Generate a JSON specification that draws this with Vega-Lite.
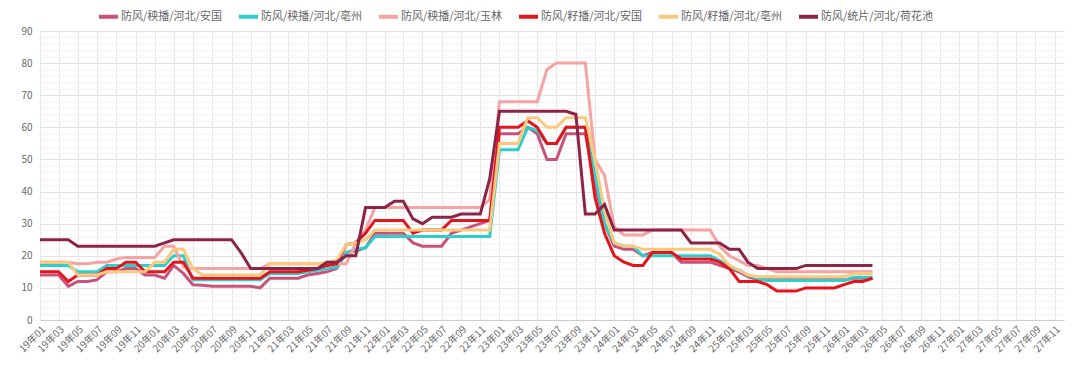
{
  "$schema": "https://vega.github.io/schema/vega-lite/v6.json",
  "width": 1024,
  "height": 289,
  "autosize": "none",
  "padding": {"left": 40, "top": 31, "right": 16, "bottom": 54},
  "background": "#ffffff",
  "config": {
    "font": "Noto Sans CJK SC",
    "view": {"stroke": null}
  },
  "data": {
    "values": [
      {"d":"2019-01-01","防风/秧播/河北/安国":14,"防风/秧播/河北/亳州":17,"防风/秧播/河北/玉林":18,"防风/籽播/河北/安国":15,"防风/籽播/河北/亳州":18,"防风/统片/河北/荷花池":25},
      {"d":"2019-02-01","防风/秧播/河北/安国":14,"防风/秧播/河北/亳州":17,"防风/秧播/河北/玉林":18,"防风/籽播/河北/安国":15,"防风/籽播/河北/亳州":18,"防风/统片/河北/荷花池":25},
      {"d":"2019-03-01","防风/秧播/河北/安国":14,"防风/秧播/河北/亳州":17,"防风/秧播/河北/玉林":18,"防风/籽播/河北/安国":15,"防风/籽播/河北/亳州":18,"防风/统片/河北/荷花池":25},
      {"d":"2019-04-01","防风/秧播/河北/安国":10.5,"防风/秧播/河北/亳州":17,"防风/秧播/河北/玉林":18,"防风/籽播/河北/安国":12,"防风/籽播/河北/亳州":18,"防风/统片/河北/荷花池":25},
      {"d":"2019-05-01","防风/秧播/河北/安国":12,"防风/秧播/河北/亳州":15,"防风/秧播/河北/玉林":17.5,"防风/籽播/河北/安国":14,"防风/籽播/河北/亳州":14,"防风/统片/河北/荷花池":23},
      {"d":"2019-06-01","防风/秧播/河北/安国":12,"防风/秧播/河北/亳州":15,"防风/秧播/河北/玉林":17.5,"防风/籽播/河北/安国":14,"防风/籽播/河北/亳州":14,"防风/统片/河北/荷花池":23},
      {"d":"2019-07-01","防风/秧播/河北/安国":12.5,"防风/秧播/河北/亳州":15,"防风/秧播/河北/玉林":18,"防风/籽播/河北/安国":14,"防风/籽播/河北/亳州":14,"防风/统片/河北/荷花池":23},
      {"d":"2019-08-01","防风/秧播/河北/安国":15,"防风/秧播/河北/亳州":17,"防风/秧播/河北/玉林":18,"防风/籽播/河北/安国":16,"防风/籽播/河北/亳州":15,"防风/统片/河北/荷花池":23},
      {"d":"2019-09-01","防风/秧播/河北/安国":15,"防风/秧播/河北/亳州":17,"防风/秧播/河北/玉林":19,"防风/籽播/河北/安国":16,"防风/籽播/河北/亳州":15,"防风/统片/河北/荷花池":23},
      {"d":"2019-10-01","防风/秧播/河北/安国":16,"防风/秧播/河北/亳州":17,"防风/秧播/河北/玉林":19.5,"防风/籽播/河北/安国":18,"防风/籽播/河北/亳州":15,"防风/统片/河北/荷花池":23},
      {"d":"2019-11-01","防风/秧播/河北/安国":16,"防风/秧播/河北/亳州":17,"防风/秧播/河北/玉林":19.5,"防风/籽播/河北/安国":18,"防风/籽播/河北/亳州":15,"防风/统片/河北/荷花池":23},
      {"d":"2019-12-01","防风/秧播/河北/安国":14,"防风/秧播/河北/亳州":17,"防风/秧播/河北/玉林":19.5,"防风/籽播/河北/安国":15,"防风/籽播/河北/亳州":15,"防风/统片/河北/荷花池":23},
      {"d":"2020-01-01","防风/秧播/河北/安国":14,"防风/秧播/河北/亳州":17,"防风/秧播/河北/玉林":19.5,"防风/籽播/河北/安国":15,"防风/籽播/河北/亳州":18,"防风/统片/河北/荷花池":23},
      {"d":"2020-02-01","防风/秧播/河北/安国":13,"防风/秧播/河北/亳州":17,"防风/秧播/河北/玉林":23,"防风/籽播/河北/安国":15,"防风/籽播/河北/亳州":18,"防风/统片/河北/荷花池":24},
      {"d":"2020-03-01","防风/秧播/河北/安国":17,"防风/秧播/河北/亳州":20,"防风/秧播/河北/玉林":23,"防风/籽播/河北/安国":18,"防风/籽播/河北/亳州":22,"防风/统片/河北/荷花池":25},
      {"d":"2020-04-01","防风/秧播/河北/安国":14.5,"防风/秧播/河北/亳州":20,"防风/秧播/河北/玉林":16.5,"防风/籽播/河北/安国":18,"防风/籽播/河北/亳州":22,"防风/统片/河北/荷花池":25},
      {"d":"2020-05-01","防风/秧播/河北/安国":11,"防风/秧播/河北/亳州":12.5,"防风/秧播/河北/玉林":16,"防风/籽播/河北/安国":13,"防风/籽播/河北/亳州":16,"防风/统片/河北/荷花池":25},
      {"d":"2020-06-01","防风/秧播/河北/安国":10.8,"防风/秧播/河北/亳州":12.5,"防风/秧播/河北/玉林":16,"防风/籽播/河北/安国":13,"防风/籽播/河北/亳州":14,"防风/统片/河北/荷花池":25},
      {"d":"2020-07-01","防风/秧播/河北/安国":10.5,"防风/秧播/河北/亳州":12.5,"防风/秧播/河北/玉林":16,"防风/籽播/河北/安国":13,"防风/籽播/河北/亳州":14,"防风/统片/河北/荷花池":25},
      {"d":"2020-08-01","防风/秧播/河北/安国":10.5,"防风/秧播/河北/亳州":12.5,"防风/秧播/河北/玉林":16,"防风/籽播/河北/安国":13,"防风/籽播/河北/亳州":14,"防风/统片/河北/荷花池":25},
      {"d":"2020-09-01","防风/秧播/河北/安国":10.5,"防风/秧播/河北/亳州":12.5,"防风/秧播/河北/玉林":16,"防风/籽播/河北/安国":13,"防风/籽播/河北/亳州":14,"防风/统片/河北/荷花池":25},
      {"d":"2020-10-01","防风/秧播/河北/安国":10.5,"防风/秧播/河北/亳州":12.5,"防风/秧播/河北/玉林":16,"防风/籽播/河北/安国":13,"防风/籽播/河北/亳州":14,"防风/统片/河北/荷花池":21},
      {"d":"2020-11-01","防风/秧播/河北/安国":10.5,"防风/秧播/河北/亳州":12.5,"防风/秧播/河北/玉林":16,"防风/籽播/河北/安国":13,"防风/籽播/河北/亳州":14,"防风/统片/河北/荷花池":16},
      {"d":"2020-12-01","防风/秧播/河北/安国":10,"防风/秧播/河北/亳州":12.5,"防风/秧播/河北/玉林":16,"防风/籽播/河北/安国":13,"防风/籽播/河北/亳州":14,"防风/统片/河北/荷花池":16},
      {"d":"2021-01-01","防风/秧播/河北/安国":13,"防风/秧播/河北/亳州":14.5,"防风/秧播/河北/玉林":17.5,"防风/籽播/河北/安国":15,"防风/籽播/河北/亳州":17.5,"防风/统片/河北/荷花池":16},
      {"d":"2021-02-01","防风/秧播/河北/安国":13,"防风/秧播/河北/亳州":14.5,"防风/秧播/河北/玉林":17.5,"防风/籽播/河北/安国":15,"防风/籽播/河北/亳州":17.5,"防风/统片/河北/荷花池":16},
      {"d":"2021-03-01","防风/秧播/河北/安国":13,"防风/秧播/河北/亳州":14.5,"防风/秧播/河北/玉林":17.5,"防风/籽播/河北/安国":15,"防风/籽播/河北/亳州":17.5,"防风/统片/河北/荷花池":16},
      {"d":"2021-04-01","防风/秧播/河北/安国":13,"防风/秧播/河北/亳州":14.5,"防风/秧播/河北/玉林":17.5,"防风/籽播/河北/安国":15,"防风/籽播/河北/亳州":17.5,"防风/统片/河北/荷花池":16},
      {"d":"2021-05-01","防风/秧播/河北/安国":14,"防风/秧播/河北/亳州":15,"防风/秧播/河北/玉林":17.5,"防风/籽播/河北/安国":15.5,"防风/籽播/河北/亳州":17.5,"防风/统片/河北/荷花池":16},
      {"d":"2021-06-01","防风/秧播/河北/安国":14.5,"防风/秧播/河北/亳州":15.5,"防风/秧播/河北/玉林":17.5,"防风/籽播/河北/安国":16,"防风/籽播/河北/亳州":17.5,"防风/统片/河北/荷花池":16},
      {"d":"2021-07-01","防风/秧播/河北/安国":15,"防风/秧播/河北/亳州":16,"防风/秧播/河北/玉林":17.5,"防风/籽播/河北/安国":17,"防风/籽播/河北/亳州":18,"防风/统片/河北/荷花池":18},
      {"d":"2021-08-01","防风/秧播/河北/安国":16,"防风/秧播/河北/亳州":16.5,"防风/秧播/河北/玉林":17.5,"防风/籽播/河北/安国":17.5,"防风/籽播/河北/亳州":18.5,"防风/统片/河北/荷花池":18},
      {"d":"2021-09-01","防风/秧播/河北/安国":21,"防风/秧播/河北/亳州":21,"防风/秧播/河北/玉林":17.5,"防风/籽播/河北/安国":23.5,"防风/籽播/河北/亳州":23.5,"防风/统片/河北/荷花池":20},
      {"d":"2021-10-01","防风/秧播/河北/安国":21.5,"防风/秧播/河北/亳州":22,"防风/秧播/河北/玉林":24,"防风/籽播/河北/安国":24,"防风/籽播/河北/亳州":24,"防风/统片/河北/荷花池":20},
      {"d":"2021-11-01","防风/秧播/河北/安国":22.5,"防风/秧播/河北/亳州":22.5,"防风/秧播/河北/玉林":28,"防风/籽播/河北/安国":27,"防风/籽播/河北/亳州":25,"防风/统片/河北/荷花池":35},
      {"d":"2021-12-01","防风/秧播/河北/安国":27,"防风/秧播/河北/亳州":26,"防风/秧播/河北/玉林":35,"防风/籽播/河北/安国":31,"防风/籽播/河北/亳州":28,"防风/统片/河北/荷花池":35},
      {"d":"2022-01-01","防风/秧播/河北/安国":27,"防风/秧播/河北/亳州":26,"防风/秧播/河北/玉林":35,"防风/籽播/河北/安国":31,"防风/籽播/河北/亳州":28,"防风/统片/河北/荷花池":35},
      {"d":"2022-02-01","防风/秧播/河北/安国":27,"防风/秧播/河北/亳州":26,"防风/秧播/河北/玉林":35,"防风/籽播/河北/安国":31,"防风/籽播/河北/亳州":28,"防风/统片/河北/荷花池":37},
      {"d":"2022-03-01","防风/秧播/河北/安国":27,"防风/秧播/河北/亳州":26,"防风/秧播/河北/玉林":35,"防风/籽播/河北/安国":31,"防风/籽播/河北/亳州":28,"防风/统片/河北/荷花池":37},
      {"d":"2022-04-01","防风/秧播/河北/安国":24,"防风/秧播/河北/亳州":26,"防风/秧播/河北/玉林":35,"防风/籽播/河北/安国":27,"防风/籽播/河北/亳州":28,"防风/统片/河北/荷花池":31.5},
      {"d":"2022-05-01","防风/秧播/河北/安国":23,"防风/秧播/河北/亳州":26,"防风/秧播/河北/玉林":35,"防风/籽播/河北/安国":28,"防风/籽播/河北/亳州":28,"防风/统片/河北/荷花池":30},
      {"d":"2022-06-01","防风/秧播/河北/安国":23,"防风/秧播/河北/亳州":26,"防风/秧播/河北/玉林":35,"防风/籽播/河北/安国":28,"防风/籽播/河北/亳州":28,"防风/统片/河北/荷花池":32},
      {"d":"2022-07-01","防风/秧播/河北/安国":23,"防风/秧播/河北/亳州":26,"防风/秧播/河北/玉林":35,"防风/籽播/河北/安国":28,"防风/籽播/河北/亳州":28,"防风/统片/河北/荷花池":32},
      {"d":"2022-08-01","防风/秧播/河北/安国":27,"防风/秧播/河北/亳州":26,"防风/秧播/河北/玉林":35,"防风/籽播/河北/安国":31,"防风/籽播/河北/亳州":28,"防风/统片/河北/荷花池":32},
      {"d":"2022-09-01","防风/秧播/河北/安国":28,"防风/秧播/河北/亳州":26,"防风/秧播/河北/玉林":35,"防风/籽播/河北/安国":31,"防风/籽播/河北/亳州":28,"防风/统片/河北/荷花池":33},
      {"d":"2022-10-01","防风/秧播/河北/安国":29,"防风/秧播/河北/亳州":26,"防风/秧播/河北/玉林":35,"防风/籽播/河北/安国":31,"防风/籽播/河北/亳州":28,"防风/统片/河北/荷花池":33},
      {"d":"2022-11-01","防风/秧播/河北/安国":30,"防风/秧播/河北/亳州":26,"防风/秧播/河北/玉林":35,"防风/籽播/河北/安国":31,"防风/籽播/河北/亳州":28,"防风/统片/河北/荷花池":33},
      {"d":"2022-12-01","防风/秧播/河北/安国":31,"防风/秧播/河北/亳州":26,"防风/秧播/河北/玉林":37.5,"防风/籽播/河北/安国":31,"防风/籽播/河北/亳州":28,"防风/统片/河北/荷花池":44},
      {"d":"2023-01-01","防风/秧播/河北/安国":58,"防风/秧播/河北/亳州":53,"防风/秧播/河北/玉林":68,"防风/籽播/河北/安国":60,"防风/籽播/河北/亳州":55,"防风/统片/河北/荷花池":65},
      {"d":"2023-02-01","防风/秧播/河北/安国":58,"防风/秧播/河北/亳州":53,"防风/秧播/河北/玉林":68,"防风/籽播/河北/安国":60,"防风/籽播/河北/亳州":55,"防风/统片/河北/荷花池":65},
      {"d":"2023-03-01","防风/秧播/河北/安国":58,"防风/秧播/河北/亳州":53,"防风/秧播/河北/玉林":68,"防风/籽播/河北/安国":60,"防风/籽播/河北/亳州":55,"防风/统片/河北/荷花池":65},
      {"d":"2023-04-01","防风/秧播/河北/安国":60,"防风/秧播/河北/亳州":60,"防风/秧播/河北/玉林":68,"防风/籽播/河北/安国":62,"防风/籽播/河北/亳州":63,"防风/统片/河北/荷花池":65},
      {"d":"2023-05-01","防风/秧播/河北/安国":58,"防风/秧播/河北/亳州":59,"防风/秧播/河北/玉林":68,"防风/籽播/河北/安国":60,"防风/籽播/河北/亳州":63,"防风/统片/河北/荷花池":65},
      {"d":"2023-06-01","防风/秧播/河北/安国":50,"防风/秧播/河北/亳州":55,"防风/秧播/河北/玉林":78,"防风/籽播/河北/安国":55,"防风/籽播/河北/亳州":60,"防风/统片/河北/荷花池":65},
      {"d":"2023-07-01","防风/秧播/河北/安国":50,"防风/秧播/河北/亳州":55,"防风/秧播/河北/玉林":80,"防风/籽播/河北/安国":55,"防风/籽播/河北/亳州":60,"防风/统片/河北/荷花池":65},
      {"d":"2023-08-01","防风/秧播/河北/安国":58,"防风/秧播/河北/亳州":60,"防风/秧播/河北/玉林":80,"防风/籽播/河北/安国":60,"防风/籽播/河北/亳州":63,"防风/统片/河北/荷花池":65},
      {"d":"2023-09-01","防风/秧播/河北/安国":58,"防风/秧播/河北/亳州":60,"防风/秧播/河北/玉林":80,"防风/籽播/河北/安国":60,"防风/籽播/河北/亳州":63,"防风/统片/河北/荷花池":64},
      {"d":"2023-10-01","防风/秧播/河北/安国":58,"防风/秧播/河北/亳州":60,"防风/秧播/河北/玉林":80,"防风/籽播/河北/安国":60,"防风/籽播/河北/亳州":63,"防风/统片/河北/荷花池":33},
      {"d":"2023-11-01","防风/秧播/河北/安国":42,"防风/秧播/河北/亳州":45,"防风/秧播/河北/玉林":50,"防风/籽播/河北/安国":38,"防风/籽播/河北/亳州":50,"防风/统片/河北/荷花池":33},
      {"d":"2023-12-01","防风/秧播/河北/安国":30,"防风/秧播/河北/亳州":30,"防风/秧播/河北/玉林":45,"防风/籽播/河北/安国":27,"防风/籽播/河北/亳州":34,"防风/统片/河北/荷花池":36},
      {"d":"2024-01-01","防风/秧播/河北/安国":23,"防风/秧播/河北/亳州":24,"防风/秧播/河北/玉林":29,"防风/籽播/河北/安国":20,"防风/籽播/河北/亳州":24,"防风/统片/河北/荷花池":28},
      {"d":"2024-02-01","防风/秧播/河北/安国":22,"防风/秧播/河北/亳州":23,"防风/秧播/河北/玉林":26.5,"防风/籽播/河北/安国":18,"防风/籽播/河北/亳州":23,"防风/统片/河北/荷花池":28},
      {"d":"2024-03-01","防风/秧播/河北/安国":22,"防风/秧播/河北/亳州":23,"防风/秧播/河北/玉林":26.5,"防风/籽播/河北/安国":17,"防风/籽播/河北/亳州":23,"防风/统片/河北/荷花池":28},
      {"d":"2024-04-01","防风/秧播/河北/安国":20,"防风/秧播/河北/亳州":20,"防风/秧播/河北/玉林":26.5,"防风/籽播/河北/安国":17,"防风/籽播/河北/亳州":22,"防风/统片/河北/荷花池":28},
      {"d":"2024-05-01","防风/秧播/河北/安国":21,"防风/秧播/河北/亳州":20,"防风/秧播/河北/玉林":28,"防风/籽播/河北/安国":21,"防风/籽播/河北/亳州":22,"防风/统片/河北/荷花池":28},
      {"d":"2024-06-01","防风/秧播/河北/安国":21,"防风/秧播/河北/亳州":20,"防风/秧播/河北/玉林":28,"防风/籽播/河北/安国":21,"防风/籽播/河北/亳州":22,"防风/统片/河北/荷花池":28},
      {"d":"2024-07-01","防风/秧播/河北/安国":21,"防风/秧播/河北/亳州":20,"防风/秧播/河北/玉林":28,"防风/籽播/河北/安国":21,"防风/籽播/河北/亳州":22,"防风/统片/河北/荷花池":28},
      {"d":"2024-08-01","防风/秧播/河北/安国":18,"防风/秧播/河北/亳州":20,"防风/秧播/河北/玉林":28,"防风/籽播/河北/安国":19,"防风/籽播/河北/亳州":22,"防风/统片/河北/荷花池":28},
      {"d":"2024-09-01","防风/秧播/河北/安国":18,"防风/秧播/河北/亳州":20,"防风/秧播/河北/玉林":28,"防风/籽播/河北/安国":19,"防风/籽播/河北/亳州":22,"防风/统片/河北/荷花池":24},
      {"d":"2024-10-01","防风/秧播/河北/安国":18,"防风/秧播/河北/亳州":20,"防风/秧播/河北/玉林":28,"防风/籽播/河北/安国":19,"防风/籽播/河北/亳州":22,"防风/统片/河北/荷花池":24},
      {"d":"2024-11-01","防风/秧播/河北/安国":18,"防风/秧播/河北/亳州":20,"防风/秧播/河北/玉林":28,"防风/籽播/河北/安国":19,"防风/籽播/河北/亳州":22,"防风/统片/河北/荷花池":24},
      {"d":"2024-12-01","防风/秧播/河北/安国":17,"防风/秧播/河北/亳州":18.5,"防风/秧播/河北/玉林":23,"防风/籽播/河北/安国":18,"防风/籽播/河北/亳州":20.5,"防风/统片/河北/荷花池":24},
      {"d":"2025-01-01","防风/秧播/河北/安国":16,"防风/秧播/河北/亳州":16.5,"防风/秧播/河北/玉林":20,"防风/籽播/河北/安国":16,"防风/籽播/河北/亳州":17,"防风/统片/河北/荷花池":22},
      {"d":"2025-02-01","防风/秧播/河北/安国":15,"防风/秧播/河北/亳州":15.5,"防风/秧播/河北/玉林":18.5,"防风/籽播/河北/安国":12,"防风/籽播/河北/亳州":15.5,"防风/统片/河北/荷花池":22},
      {"d":"2025-03-01","防风/秧播/河北/安国":13.5,"防风/秧播/河北/亳州":14,"防风/秧播/河北/玉林":17,"防风/籽播/河北/安国":12,"防风/籽播/河北/亳州":14,"防风/统片/河北/荷花池":18},
      {"d":"2025-04-01","防风/秧播/河北/安国":12.5,"防风/秧播/河北/亳州":13,"防风/秧播/河北/玉林":17,"防风/籽播/河北/安国":12,"防风/籽播/河北/亳州":13.5,"防风/统片/河北/荷花池":16},
      {"d":"2025-05-01","防风/秧播/河北/安国":12.5,"防风/秧播/河北/亳州":12.3,"防风/秧播/河北/玉林":16,"防风/籽播/河北/安国":11,"防风/籽播/河北/亳州":13.5,"防风/统片/河北/荷花池":16},
      {"d":"2025-06-01","防风/秧播/河北/安国":12.5,"防风/秧播/河北/亳州":12.3,"防风/秧播/河北/玉林":15,"防风/籽播/河北/安国":9,"防风/籽播/河北/亳州":13.5,"防风/统片/河北/荷花池":16},
      {"d":"2025-07-01","防风/秧播/河北/安国":12.5,"防风/秧播/河北/亳州":12.3,"防风/秧播/河北/玉林":15,"防风/籽播/河北/安国":9,"防风/籽播/河北/亳州":13.5,"防风/统片/河北/荷花池":16},
      {"d":"2025-08-01","防风/秧播/河北/安国":12.5,"防风/秧播/河北/亳州":12.3,"防风/秧播/河北/玉林":15,"防风/籽播/河北/安国":9,"防风/籽播/河北/亳州":13.5,"防风/统片/河北/荷花池":16},
      {"d":"2025-09-01","防风/秧播/河北/安国":12.5,"防风/秧播/河北/亳州":12.3,"防风/秧播/河北/玉林":15,"防风/籽播/河北/安国":10,"防风/籽播/河北/亳州":13.5,"防风/统片/河北/荷花池":17},
      {"d":"2025-10-01","防风/秧播/河北/安国":12.5,"防风/秧播/河北/亳州":12.3,"防风/秧播/河北/玉林":15,"防风/籽播/河北/安国":10,"防风/籽播/河北/亳州":13.5,"防风/统片/河北/荷花池":17},
      {"d":"2025-11-01","防风/秧播/河北/安国":12.5,"防风/秧播/河北/亳州":12.3,"防风/秧播/河北/玉林":15,"防风/籽播/河北/安国":10,"防风/籽播/河北/亳州":13.5,"防风/统片/河北/荷花池":17},
      {"d":"2025-12-01","防风/秧播/河北/安国":12.5,"防风/秧播/河北/亳州":12.3,"防风/秧播/河北/玉林":15,"防风/籽播/河北/安国":10,"防风/籽播/河北/亳州":13.5,"防风/统片/河北/荷花池":17},
      {"d":"2026-01-01","防风/秧播/河北/安国":12.5,"防风/秧播/河北/亳州":12.3,"防风/秧播/河北/玉林":15,"防风/籽播/河北/安国":11,"防风/籽播/河北/亳州":13.5,"防风/统片/河北/荷花池":17},
      {"d":"2026-02-01","防风/秧播/河北/安国":13,"防风/秧播/河北/亳州":13.3,"防风/秧播/河北/玉林":15,"防风/籽播/河北/安国":12,"防风/籽播/河北/亳州":14.5,"防风/统片/河北/荷花池":17},
      {"d":"2026-03-01","防风/秧播/河北/安国":13,"防风/秧播/河北/亳州":13.3,"防风/秧播/河北/玉林":15,"防风/籽播/河北/安国":12,"防风/籽播/河北/亳州":14.5,"防风/统片/河北/荷花池":17},
      {"d":"2026-04-01","防风/秧播/河北/安国":13,"防风/秧播/河北/亳州":13.3,"防风/秧播/河北/玉林":15,"防风/籽播/河北/安国":13,"防风/籽播/河北/亳州":14.5,"防风/统片/河北/荷花池":17}
    ]
  },
  "transform": [
    {"fold": ["防风/秧播/河北/安国","防风/秧播/河北/亳州","防风/秧播/河北/玉林","防风/籽播/河北/安国","防风/籽播/河北/亳州","防风/统片/河北/荷花池"], "as": ["series","value"]}
  ],
  "mark": {"type": "line", "strokeWidth": 3, "interpolate": "linear"},
  "encoding": {
    "x": {
      "field": "d",
      "type": "temporal",
      "scale": {"type": "utc", "domain": [{"year": 2019, "month": 1, "date": 1, "utc": true}, {"year": 2027, "month": 12, "date": 1, "utc": true}], "nice": false},
      "axis": {
        "title": null,
        "format": "%y年%m",
        "tickCount": {"interval": "month", "step": 2},
        "labelAngle": -45,
        "labelFontSize": 10,
        "labelColor": "#666666",
        "labelPadding": 4,
        "labelOverlap": false,
        "labelFlush": false,
        "ticks": false,
        "domainColor": "#cccccc",
        "gridColor": "#e6e6e6",
        "gridWidth": 1
      }
    },
    "y": {
      "field": "value",
      "type": "quantitative",
      "scale": {"domain": [0, 90], "nice": false},
      "axis": {
        "title": null,
        "values": [0,2,4,6,8,10,12,14,16,18,20,22,24,26,28,30,32,34,36,38,40,42,44,46,48,50,52,54,56,58,60,62,64,66,68,70,72,74,76,78,80,82,84,86,88,90],
        "labelExpr": "datum.value % 10 === 0 ? datum.label : ''",
        "labelFontSize": 10,
        "labelColor": "#666666",
        "labelPadding": 8,
        "ticks": false,
        "domain": false,
        "gridColor": {"condition": {"test": "datum.value % 10 === 0", "value": "#e3e3e3"}, "value": "#f3f3f3"},
        "gridWidth": 1
      }
    },
    "color": {
      "field": "series",
      "type": "nominal",
      "scale": {
        "domain": ["防风/秧播/河北/安国","防风/秧播/河北/亳州","防风/秧播/河北/玉林","防风/籽播/河北/安国","防风/籽播/河北/亳州","防风/统片/河北/荷花池"],
        "range": ["#c9527c","#2dcfcc","#f5a3a3","#e3141c","#fbc97e","#8b2448"]
      },
      "legend": {
        "title": null,
        "orient": "none",
        "legendX": 57,
        "legendY": -26,
        "direction": "horizontal",
        "columns": 6,
        "symbolType": "stroke",
        "symbolSize": 361,
        "symbolStrokeWidth": 4,
        "labelFontSize": 11,
        "labelColor": "#666666",
        "labelOffset": 1,
        "columnPadding": 9,
        "labelLimit": 200
      }
    }
  }
}
